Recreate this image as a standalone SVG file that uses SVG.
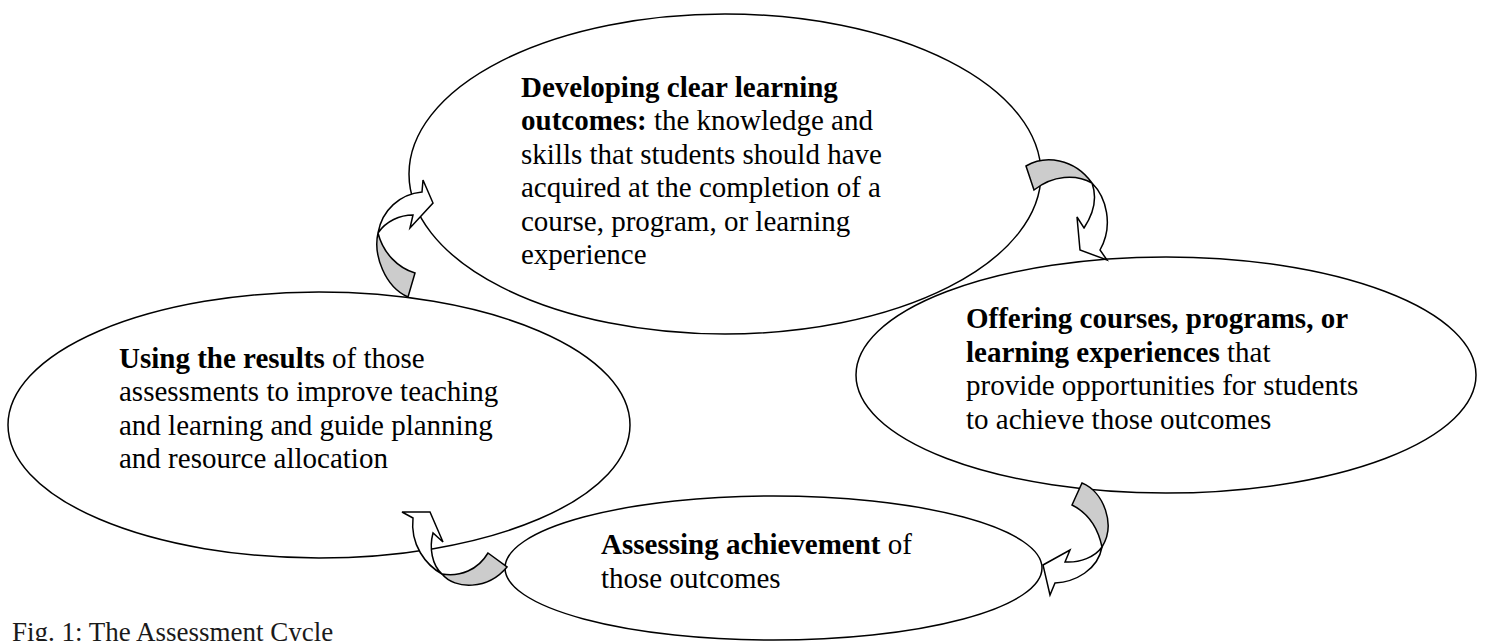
<svg xmlns="http://www.w3.org/2000/svg" width="1486" height="641" viewBox="0 0 1486 641">
<style>
.node{fill:none;stroke:#000;stroke-width:1.5}
.t{font-family:"Liberation Serif","Times New Roman",serif;font-size:29px;fill:#000}
.b{font-weight:bold}
.arw{stroke:#000;stroke-width:1.5;stroke-linejoin:miter}
.g{fill:#cccccc}
.w{fill:#ffffff}
.cap{font-family:"Liberation Serif","Times New Roman",serif;font-size:27px;fill:#1a1a1a}
</style>
<rect width="1486" height="641" fill="#fff"/>
<g id="node-develop">
<ellipse class="node" cx="725" cy="174" rx="316" ry="160"/>
<text class="t" x="521"><tspan x="521" y="97" class="b">Developing clear learning</tspan><tspan x="521" y="130.4"><tspan class="b">outcomes:</tspan> the knowledge and</tspan><tspan x="521" y="163.8">skills that students should have</tspan><tspan x="521" y="197.2">acquired at the completion of a</tspan><tspan x="521" y="230.6">course, program, or learning</tspan><tspan x="521" y="264">experience</tspan></text>
</g>
<g id="node-offer">
<ellipse class="node" cx="1166" cy="375" rx="310" ry="118"/>
<text class="t"><tspan x="966" y="328" class="b">Offering courses, programs, or</tspan><tspan x="966" y="361.5"><tspan class="b">learning experiences</tspan> that</tspan><tspan x="966" y="395">provide opportunities for students</tspan><tspan x="966" y="428.5">to achieve those outcomes</tspan></text>
</g>
<g id="node-assess">
<ellipse class="node" cx="773.5" cy="568" rx="268.5" ry="72"/>
<text class="t"><tspan x="601" y="554"><tspan class="b">Assessing achievement</tspan> of</tspan><tspan x="601" y="587.5">those outcomes</tspan></text>
</g>
<g id="node-use">
<ellipse class="node" cx="319" cy="425" rx="311" ry="133"/>
<text class="t"><tspan x="119" y="368"><tspan class="b">Using the results</tspan> of those</tspan><tspan x="119" y="401.4">assessments to improve teaching</tspan><tspan x="119" y="434.8">and learning and guide planning</tspan><tspan x="119" y="468.2">and resource allocation</tspan></text>
</g>
<g id="connectors">
<g id="arrow-top-right">
<path class="arw g" d="M1026,166 C1045,155 1074,158 1092,183 C1076,174 1053,175 1034,190 Z"/>
<path class="arw w" d="M1092,183 C1106,197 1114,225 1100,250 L1107,260 L1080,250 L1077,217 L1084,228 C1094,213 1097,197 1092,183 Z"/>
</g>
<g id="arrow-bottom-right">
<path class="arw g" d="M1072,505 L1082,483 C1104,492 1116,525 1102,547 C1098,528 1088,513 1072,505 Z"/>
<path class="arw w" d="M1102,547 C1098,570 1075,582 1055,583 L1050,595 L1043,565 L1070,550 L1065,562 C1080,563 1095,557 1102,547 Z"/>
</g>
<g id="arrow-bottom-left">
<path class="arw g" d="M442,574 C455,590 488,590 507,567 L488,553 C478,570 460,577 442,574 Z"/>
<path class="arw w" d="M442,574 C426,565 410,545 413,518 L402,512 L430,512 L443,542 L433,533 C429,548 432,565 442,574 Z"/>
</g>
<g id="arrow-left">
<path class="arw g" d="M378,233 C373,255 385,287 408,297 L415,273 C398,268 383,253 378,233 Z"/>
<path class="arw w" d="M378,233 C382,210 400,194 422,192 L423,180 L433,203 L410,228 L413,215 C400,215 386,221 378,233 Z"/>
</g>
</g>
<text class="cap" x="12" y="641">Fig. 1: The Assessment Cycle</text>
</svg>
